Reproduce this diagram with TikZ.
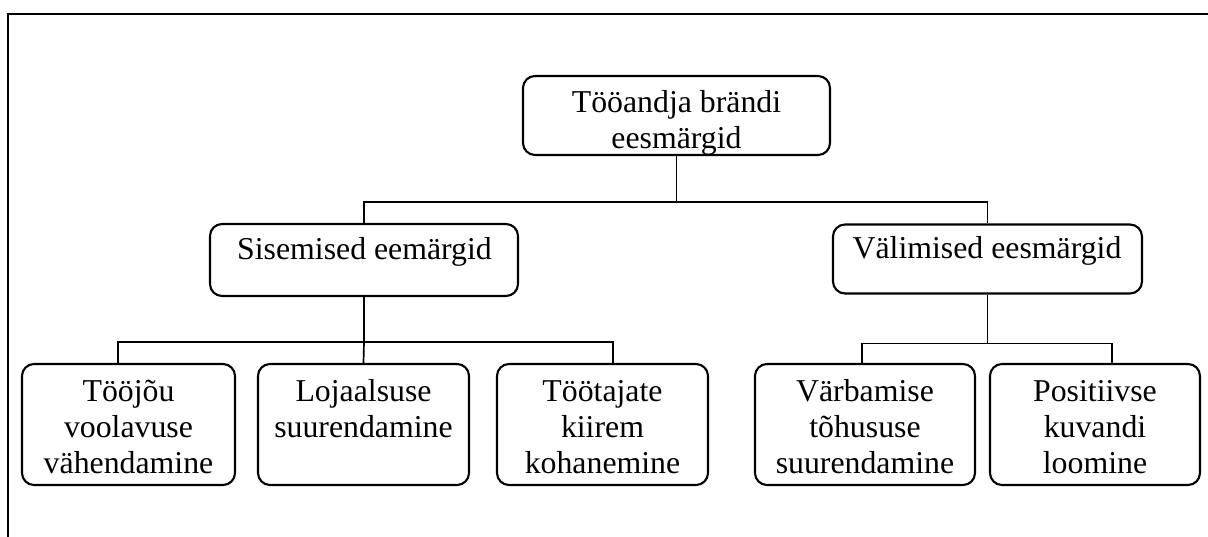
\documentclass[tikz,border=0pt]{standalone}
\usepackage{fontspec}
\setmainfont{Liberation Serif}
\begin{document}
\begin{tikzpicture}[x=1pt,y=-1pt,
  box/.style={draw, line width=2.1pt, rounded corners=12pt, inner sep=0pt},
  lbl/.style={anchor=north, inner sep=0pt, align=center,
              font=\fontsize{31.8}{36}\selectfont},
  link/.style={line width=1.7pt}]
\useasboundingbox (0,0) rectangle (1208,537);

% open frame: left and top edges
\draw[line width=2.4pt] (8,537) |- (1208,14);

% top level
\node[box, minimum width=307pt, minimum height=79pt] (top) at (676.5,115.5) {};
\begin{scope}
  \clip[rounded corners=12pt] (top.south west) rectangle (top.north east);
  \node[lbl] (ttop) at (676.5,86.8) {\strut Tööandja brändi\\\strut eesmärgid};
\end{scope}

% second level
\node[box, minimum width=308pt, minimum height=72pt] (sis) at (364,260) {};
\node[lbl] (tsis) at (364.5,233.8) {\strut Sisemised eemärgid};
\node[box, minimum width=309pt, minimum height=69pt] (val) at (987.5,259) {};
\node[lbl] (tval) at (987,232.8) {\strut Välimised eesmärgid};

% third level
\node[box, minimum width=213pt, minimum height=121pt] (b1) at (128.5,424.5) {};
\node[lbl] (tb1) at (128.5,375.8) {\strut Tööjõu\\\strut voolavuse\\\strut vähendamine};
\node[box, minimum width=211pt, minimum height=121pt] (b2) at (363.5,424.5) {};
\node[lbl] (tb2) at (363.5,375.8) {\strut Lojaalsuse\\\strut suurendamine};
\node[box, minimum width=211pt, minimum height=121pt] (b3) at (602.5,424.5) {};
\node[lbl] (tb3) at (602.5,375.8) {\strut Töötajate\\\strut kiirem\\\strut kohanemine};
\node[box, minimum width=220pt, minimum height=121pt] (b4) at (865,424.5) {};
\node[lbl] (tb4) at (865,375.8) {\strut Värbamise\\\strut tõhususe\\\strut suurendamine};
\node[box, minimum width=210pt, minimum height=121pt] (b5) at (1095,424.5) {};
\node[lbl] (tb5) at (1095,375.8) {\strut Positiivse\\\strut kuvandi\\\strut loomine};

% connectors
\draw[link] (top.south) -- ++(0,46) coordinate (tj);
\draw[link] (tj) -| (sis.north);
\draw[link] (tj) -| (val.north);

\draw[link] (sis.south) -- ++(0,45) coordinate (sj);
\draw[link] (sj) -| ([xshift=-10.5pt]b1.north);
\draw[link] (sj) -- (b2.north);
\draw[link] (sj) -| ([xshift=10.5pt]b3.north);

\draw[link] (val.south) -- ++(0,49) coordinate (vj);
\draw[link] (vj) -| ([xshift=-3pt]b4.north);
\draw[link] (vj) -| ([xshift=17pt]b5.north);
\end{tikzpicture}
\end{document}
